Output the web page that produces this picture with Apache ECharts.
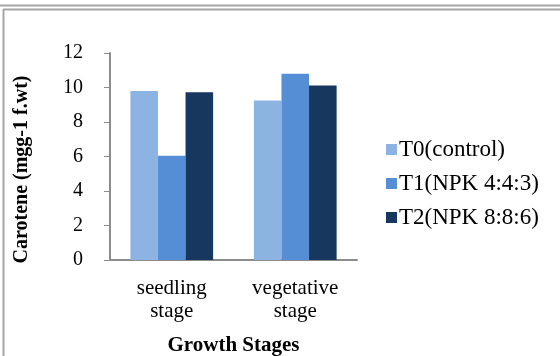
<!DOCTYPE html>
<html>
<head>
<meta charset="utf-8">
<script src="https://cdn.jsdelivr.net/npm/echarts@6/dist/echarts.min.js"></script>
<style>
  html, body { margin: 0; padding: 0; background: #fff; }
  #chart { width: 560px; height: 356px; }
</style>
</head>
<body>
<div id="chart"></div>
<script>
// Carotene content by growth stage and fertiliser treatment
const stages = ['seedling\nstage', 'vegetative\nstage'];
const seriesNames = ['T0(control)', 'T1(NPK 4:4:3)', 'T2(NPK 8:8:6)'];
const t0Values = [9.8, 9.25];
const t1Values = [6.05, 10.8];
const t2Values = [9.72, 10.12];
const seriesColors = ['#8DB3E2', '#558ED5', '#17375E'];

const FONT = '"Liberation Serif", "Times New Roman", serif';
const values = [t0Values, t1Values, t2Values];

const chart = echarts.init(document.getElementById('chart'), null, { renderer: 'canvas' });

chart.setOption({
  animation: false,
  backgroundColor: '#fff',
  textStyle: { fontFamily: FONT },
  grid: { left: 110, right: 203, top: 53, bottom: 96, outerBoundsMode: 'none', containLabel: false },
  legend: {
    orient: 'vertical',
    left: 381,
    top: 133,
    itemWidth: 11,
    itemHeight: 11,
    itemGap: 11,
    icon: 'rect',
    textStyle: { fontFamily: FONT, fontSize: 23, color: '#000', padding: [0, 0, 0, -3] },
    data: seriesNames
  },
  xAxis: {
    type: 'category',
    data: stages,
    name: 'Growth Stages',
    nameLocation: 'middle',
    nameGap: 75,
    nameTextStyle: { fontFamily: FONT, fontSize: 21, fontWeight: 'bold', color: '#000' },
    axisLine: { lineStyle: { color: '#8c8c8c', width: 2 } },
    axisTick: { show: false },
    axisLabel: { fontFamily: FONT, fontSize: 21, color: '#000', margin: 17, lineHeight: 23 }
  },
  yAxis: {
    type: 'value',
    min: 0,
    max: 12,
    interval: 2,
    name: 'Carotene (mgg-1 f.wt)',
    nameLocation: 'middle',
    nameRotate: 90,
    nameGap: 78,
    nameTextStyle: { fontFamily: FONT, fontSize: 20, fontWeight: 'bold', color: '#000', padding: [0, 26, 0, 0] },
    axisLine: { show: true, lineStyle: { color: '#8c8c8c', width: 2 } },
    axisTick: { show: true, length: 6, lineStyle: { color: '#8c8c8c', width: 1 } },
    splitLine: { show: false },
    axisLabel: { fontFamily: FONT, fontSize: 20, color: '#000', margin: 27 }
  },
  series: seriesNames.map((name, i) => ({
    name: name,
    type: 'bar',
    data: values[i],
    barGap: '0%',
    barCategoryGap: '33%',
    itemStyle: { color: seriesColors[i] }
  })),
  graphic: [
    { type: 'line', shape: { x1: 0, y1: 5.5, x2: 560, y2: 5.5 }, style: { stroke: '#a6a6a6', lineWidth: 2 } },
    { type: 'line', shape: { x1: 3, y1: 9.5, x2: 560, y2: 9.5 }, style: { stroke: '#a6a6a6', lineWidth: 2 } },
    { type: 'line', shape: { x1: 3.5, y1: 9, x2: 3.5, y2: 356 }, style: { stroke: '#a6a6a6', lineWidth: 2 } }
  ]
});
</script>
</body>
</html>
